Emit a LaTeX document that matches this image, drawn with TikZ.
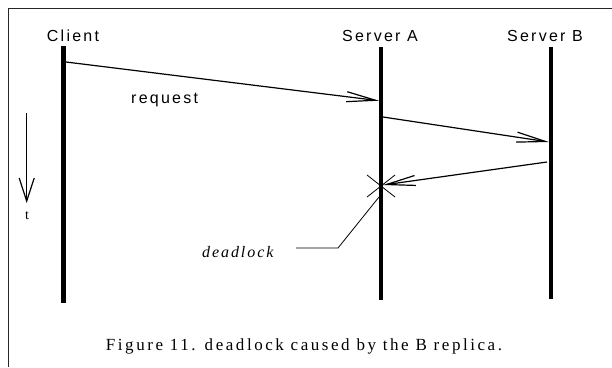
\documentclass[tikz,border=0pt]{standalone}
\usepackage{fontspec}
\setmainfont{Liberation Serif}
\newfontfamily\labfont[LetterSpace=14]{Liberation Sans}
\newfontfamily\captfont[LetterSpace=15]{Liberation Serif}
\newfontfamily\dlfont[LetterSpace=12]{Liberation Serif}
\usetikzlibrary{arrows.meta}
\begin{document}
\begin{tikzpicture}[x=1pt,y=-1pt,
  life/.style={line width=4.2pt},
  msg/.style={line width=1.2pt,-{Straight Barb[length=29pt,width=10pt]}},
  lbl/.style={inner sep=0pt,font=\labfont\fontsize{16}{19}\selectfont},
  thin/.style={line width=0.8pt}]
\useasboundingbox (0,0) rectangle (612,367);
% frame
\draw[line width=1.4pt,black!85] (8.5,367) -- (8.5,8.5) -- (612,8.5);
% lifelines
\coordinate (c1) at (63.5,46); \coordinate (c2) at (63.5,303);
\coordinate (a1) at (381,47);  \coordinate (a2) at (381,300);
\coordinate (b1) at (551,47);  \coordinate (b2) at (551,299);
\draw[life] (c1) -- (c2);
\draw[life] (a1) -- (a2);
\draw[life] (b1) -- (b2);
% labels
\node[lbl] (client) at (73,36) {Client};
\node[lbl] (sa) at (380,36) {Server A};
\node[lbl] (sb) at (545,36) {Server B};
% messages
\coordinate (m1s) at (66,62);   \coordinate (m1e) at (379,100.7);
\coordinate (m2s) at (383,117); \coordinate (m2e) at (549,142);
\coordinate (m3s) at (547,162); \coordinate (m3e) at (383,185);
\draw[msg] (m1s) -- (m1e);
\draw[msg] (m2s) -- (m2e);
\draw[msg] (m3s) -- (m3e);
\node[lbl,anchor=base west] (req) at (131,103) {request};
% deadlock cross
\coordinate (dl) at (381,186);
\draw[thin] (dl) +(-14,-11) -- +(14,11);
\draw[thin] (dl) +(-14,11) -- +(14,-11);
% leader
\coordinate (l1) at (379,197); \coordinate (l2) at (338,248); \coordinate (l3) at (296,248);
\draw[thin] (l1) -- (l2) -- (l3);
\node[inner sep=0pt,anchor=base west,font=\dlfont\itshape\fontsize{16}{18}\selectfont] (dlt) at (202,257) {deadlock};
% time arrow
\coordinate (t1) at (26.7,113); \coordinate (t2) at (26.7,203);
\draw[line width=1.2pt,-{Straight Barb[length=23pt,width=15pt]}] (t1) -- (t2);
\node[inner sep=0pt,font=\fontsize{14}{16}\selectfont] (t) at (27,216) {t};
% caption
\node[inner sep=0pt,anchor=base,font=\captfont\fontsize{17}{20}\selectfont] (cap) at (304,350) {Figure 11. deadlock caused by the B replica.};
\end{tikzpicture}
\end{document}
